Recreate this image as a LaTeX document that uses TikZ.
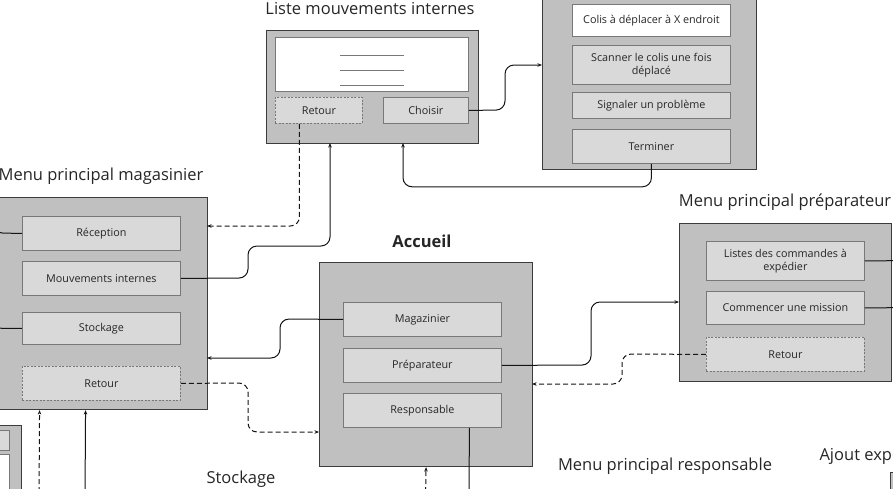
\documentclass[tikz,border=0pt]{standalone}
\usepackage{fontspec}
\setmainfont{Open Sans}
\usepackage{xcolor}
\definecolor{textcolor}{RGB}{38,38,38}
\definecolor{panelfill}{RGB}{192,192,192}
\definecolor{panelline}{RGB}{60,60,60}
\definecolor{btnfill}{RGB}{217,217,217}
\definecolor{btnline}{RGB}{120,120,120}
\definecolor{linkcolor}{RGB}{20,20,20}
\usetikzlibrary{arrows.meta}

\begin{document}
\begin{tikzpicture}[x=1pt, y=-1pt,
  every node/.style={color=textcolor, font=\fontsize{10.8}{13}\selectfont},
  panel/.style={draw=panelline, fill=panelfill, line width=1.1pt, anchor=north west, inner sep=0pt},
  btn/.style={draw=btnline, fill=btnfill, line width=0.8pt, anchor=north west, inner sep=1pt, align=center, minimum width=158pt},
  btnback/.style={btn, dash pattern=on 2pt off 1.5pt},
  screen/.style={btn, fill=white},
  title/.style={font=\fontsize{16.5}{19}\selectfont},
  line/.style={draw=linkcolor, line width=1pt, rounded corners=9pt},
  link/.style={line, -{Stealth[length=4.5pt,width=3.5pt]}},
  backlink/.style={link, dash pattern=on 5pt off 3pt}]
  \useasboundingbox (0,0) rectangle (893,488);
  \clip (0,0) rectangle (893,488);

  % Liste mouvements internes
  \node[title] (listetitle) at (370,9) {Liste mouvements internes};
  \node[panel, minimum width=212pt, minimum height=113pt] (liste) at (266,30) {};
  \node[screen, minimum width=193pt, minimum height=54pt] (listescreen) at (275,37) {};
  \foreach \y in {55,70,85}
    \draw[btnline, line width=0.8pt] (340,\y) -- (404,\y);
  \node[btnback, minimum width=87pt, minimum height=26pt] (listeretour) at (275,97) {Retour};
  \node[btn, minimum width=85pt, minimum height=26pt] (choisir) at (383,97) {Choisir};

  % mission
  \node[panel, minimum width=214pt, minimum height=180pt] (mission) at (542,-11) {};
  \node[screen, minimum height=32pt] (colis) at (572,4) {Colis à déplacer à X endroit};
  \node[btn, minimum height=39pt] (scanner) at (572,45) {Scanner le colis une fois\\déplacé};
  \node[btn, minimum height=26pt] (signaler) at (572,92) {Signaler un problème};
  \node[btn, minimum height=34pt] (terminer) at (572,129) {Terminer};

  % Menu principal magasinier
  \node[title] (magtitle) at (101,176) {Menu principal magasinier};
  \node[panel, minimum width=227pt, minimum height=212pt] (magasinier) at (-20,197) {};
  \node[btn, minimum height=34pt] (reception) at (22,216) {Réception};
  \node[btn, minimum height=34pt] (mouvements) at (22,261) {Mouvements internes};
  \node[btn, minimum height=32pt] (stockage) at (22,312) {Stockage};
  \node[btnback, minimum height=34pt] (magretour) at (22,366) {Retour};

  % Accueil
  \node[title, font=\fontsize{16.5}{19}\selectfont\bfseries] (acctitle) at (422,241) {Accueil};
  \node[panel, minimum width=213pt, minimum height=204pt] (accueil) at (319,262) {};
  \node[btn, minimum height=34pt] (magazinier) at (343,302) {Magazinier};
  \node[btn, minimum height=34pt] (preparateur) at (343,348) {Préparateur};
  \node[btn, minimum height=34pt] (responsable) at (343,393) {Responsable};

  % Menu principal preparateur
  \node[title] (preptitle) at (785,202) {Menu principal préparateur};
  \node[panel, minimum width=212pt, minimum height=158pt] (prepmenu) at (679,223) {};
  \node[btn, minimum height=39pt] (listes) at (706,241) {Listes des commandes à\\expédier};
  \node[btn, minimum height=33pt] (commencer) at (706,291) {Commencer une mission};
  \node[btnback, minimum height=34pt] (prepretour) at (706,337) {Retour};

  % Stockage et autres menus
  \node[panel, minimum width=221pt, minimum height=100pt] (stockbox) at (-200,425) {};
  \node[btn, minimum width=150pt, minimum height=20pt] (stockbtn) at (-141,430) {};
  \node[screen, minimum width=150pt, minimum height=60pt] (stockscreen) at (-141,454) {};
  \node[title] (stocktitle) at (241,479) {Stockage};
  \node[title] (resptitle) at (665,466) {Menu principal responsable};
  \node[title, anchor=west] (ajouttitle) at (816,456) {Ajout expe};
  \node[panel, minimum width=100pt, minimum height=60pt] (ajoutbox) at (890,472) {};

  % points d'entree
  \coordinate (missionin) at (542,65);
  \coordinate (listein) at (403,143);
  \coordinate (listein2) at (330,143);
  \coordinate (magin1) at (207,226);
  \coordinate (magin2) at (207,358);
  \coordinate (accin1) at (319,432);
  \coordinate (accin2) at (532,384);
  \coordinate (prepin) at (679,302);
  \coordinate (accout) at (425.5,500);
  \coordinate (respout) at (469,500);
  \coordinate (stockout1) at (39,500);
  \coordinate (stockout2) at (85,500);
  \coordinate (recepout) at (-6,150);
  \coordinate (stockin) at (-30,328);
  \coordinate (listesout) at (920,260.5);
  \coordinate (commout) at (920,307.5);

  % liens
  \draw[link] (choisir.east) -- (505,110) |- (missionin);
  \draw[link] (terminer.south) -- ++(0,23) -| (listein);
  \draw[link] (mouvements.east) -- (248,278) |- (330,246) -- (listein2);
  \draw[backlink] ([xshift=-19.5pt]listeretour.south) |- (magin1);
  \draw[link] (magazinier.west) -- (280,319) |- (magin2);
  \draw[backlink] (magretour.east) -- (248,383) |- (accin1);
  \draw[link] (preparateur.east) -- (591,365) |- (prepin);
  \draw[backlink] (prepretour.west) -- (622,354) |- (accin2);
  \draw[line] ([xshift=47pt]responsable.south) -- (respout);
  \draw[backlink] (accout) -- (accueil.south);
  \draw[backlink] (stockout1) -- ([xshift=-54.5pt]magasinier.south);
  \draw[link] (stockout2) -- ([xshift=-8.5pt]magasinier.south);
  \draw[line] (reception.west) -- (-6,233) -- (recepout);
  \draw[line] (stockage.west) -- (stockin);
  \draw[line] (listes.east) -- (listesout);
  \draw[line] (commencer.east) -- (commout);
\end{tikzpicture}
\end{document}
